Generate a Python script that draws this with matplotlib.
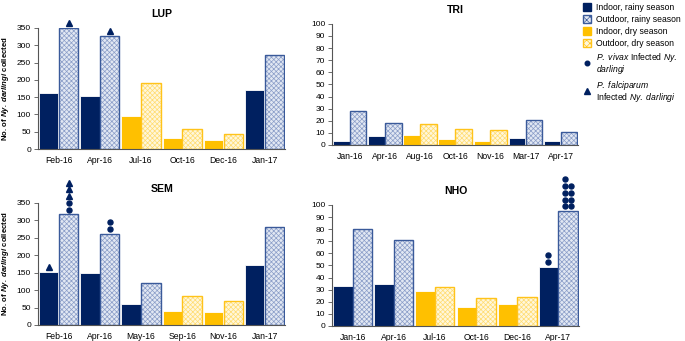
import matplotlib.pyplot as plt
from matplotlib import transforms
from matplotlib.patches import Patch
from matplotlib.lines import Line2D

# Dados
lup_months = ['Feb-16', 'Apr-16', 'Jul-16', 'Oct-16', 'Dec-16', 'Jan-17']
lup_indoor = [163, 153, 95, 33, 27, 170]
lup_outdoor = [350, 328, 192, 57, 42, 272]
lup_rainy = [True, True, False, False, False, True]

tri_months = ['Jan-16', 'Apr-16', 'Aug-16', 'Oct-16', 'Nov-16', 'Mar-17', 'Apr-17']
tri_indoor = [3, 7, 8, 5, 3, 6, 3]
tri_outdoor = [28, 18, 17, 13, 12, 21, 11]
tri_rainy = [True, True, False, False, False, True, True]

sem_months = ['Feb-16', 'Apr-16', 'May-16', 'Sep-16', 'Nov-16', 'Jan-17']
sem_indoor = [152, 149, 60, 40, 38, 172]
sem_outdoor = [317, 262, 120, 84, 69, 282]
sem_rainy = [True, True, True, False, False, True]

nho_months = ['Jan-16', 'Apr-16', 'Jul-16', 'Oct-16', 'Dec-16', 'Apr-17']
nho_indoor = [33, 35, 29, 16, 18, 49]
nho_outdoor = [80, 71, 32, 23, 24, 95]
nho_rainy = [True, True, False, False, False, True]

# infectados: (grupo, 'in'/'out', pilha de baixo para cima; o = P. vivax, ^ = P. falciparum)
lup_inf = [(0, 'out', ['^']), (1, 'out', ['^'])]
tri_inf = []
sem_inf = [(0, 'in', ['^']), (0, 'out', ['o', 'o', '^', '^', '^']), (1, 'out', ['o', 'o'])]
nho_inf = [(5, 'in', ['o', 'o']), (5, 'out', [['o', 'o']] * 4 + [['o', None]])]

navy = '#002060'
yellow = '#FFC000'

plt.rcParams['font.family'] = 'Liberation Sans'
plt.rcParams['mathtext.fontset'] = 'custom'
plt.rcParams['mathtext.rm'] = 'Liberation Sans'
plt.rcParams['mathtext.it'] = 'Liberation Sans:italic'
plt.rcParams['mathtext.bf'] = 'Liberation Sans:italic:bold'
plt.rcParams['hatch.linewidth'] = 0.5

fig = plt.figure(figsize=(6.85, 3.41), dpi=100)

w = 0.47


def painel(pos, titulo, meses, indoor, outdoor, rainy, ymax, step, infectados, ylabel):
    ax = fig.add_axes(pos)
    n = len(meses)
    for i in range(n):
        cor = navy if rainy[i] else yellow
        fundo = '#e2e8f3' if rainy[i] else '#fff7dc'
        hcor = '#8a9dc8' if rainy[i] else '#ffdc70'
        borda = '#3a5a9a' if rainy[i] else '#ffc31a'
        ax.bar(i - 0.24, indoor[i], w, color=cor, edgecolor='white', linewidth=0.6)
        ax.bar(i + 0.24, outdoor[i], w, color=fundo, edgecolor=hcor, hatch='xxxxxxx', linewidth=0)
        ax.bar(i + 0.24, outdoor[i], w, fill=False, edgecolor=borda, linewidth=1.0)
    for g, lado, pilha in infectados:
        xc = g - 0.24 if lado == 'in' else g + 0.24
        val = indoor[g] if lado == 'in' else outdoor[g]
        for k, item in enumerate(pilha):
            linha = item if isinstance(item, list) else [item]
            dxs = [-2.4, 2.4] if len(linha) == 2 else [0]
            for dx, m in zip(dxs, linha):
                if m is None:
                    continue
                tr = transforms.offset_copy(ax.transData, fig=fig, x=dx, y=3.3 + k * 4.9,
                                            units='points')
                ms = 3.6 if m == 'o' else 4.0
                ax.plot([xc], [val], marker=m, color=navy, markersize=ms, transform=tr,
                        clip_on=False, linestyle='none')
    ax.set_xlim(-0.5, n - 0.5)
    ax.set_ylim(0, ymax)
    ax.set_yticks(range(0, ymax + 1, step))
    ax.set_xticks(range(n))
    ax.set_xticklabels(meses)
    ax.spines['top'].set_visible(False)
    ax.spines['right'].set_visible(False)
    for s in ['left', 'bottom']:
        ax.spines[s].set_color('#555555')
        ax.spines[s].set_linewidth(0.8)
    ax.tick_params(axis='y', labelsize=6, length=3, width=0.6, color='#555555', pad=2)
    ax.tick_params(axis='x', labelsize=6.2, length=0, pad=5)
    ax.set_title(titulo, fontsize=7.6, fontweight='bold', pad=8)
    if ylabel:
        ax.set_ylabel(r'No. of $\mathbf{Ny.\ darlingi}$ collected', fontsize=5.6,
                      fontweight='bold', labelpad=4)
    return ax


painel([0.0555, 0.563, 0.361, 0.355], 'LUP', lup_months, lup_indoor, lup_outdoor, lup_rainy,
       350, 50, lup_inf, True)
painel([0.485, 0.575, 0.359, 0.355], 'TRI', tri_months, tri_indoor, tri_outdoor, tri_rainy,
       100, 10, tri_inf, False)
painel([0.0555, 0.047, 0.361, 0.358], 'SEM', sem_months, sem_indoor, sem_outdoor, sem_rainy,
       350, 50, sem_inf, True)
painel([0.485, 0.044, 0.360, 0.355], 'NHO', nho_months, nho_indoor, nho_outdoor, nho_rainy,
       100, 10, nho_inf, False)

# Legenda
handles = [
    Patch(facecolor=navy, edgecolor=navy),
    Patch(facecolor='#e2e8f3', edgecolor='#3a5a9a', hatch='xxxxx'),
    Patch(facecolor=yellow, edgecolor=yellow),
    Patch(facecolor='#fff7dc', edgecolor='#ffc31a', hatch='xxxxx'),
    Line2D([], [], marker='o', color=navy, linestyle='none', markersize=3.3),
    Line2D([], [], marker='^', color=navy, linestyle='none', markersize=3.8),
]
labels = [
    'Indoor, rainy season',
    'Outdoor, rainy season',
    'Indoor, dry season',
    'Outdoor, dry season',
    r'$\mathit{P.\ vivax}$ Infected $\mathit{Ny.}$' + '\n' + r'$\mathit{darlingi}$',
    r'$\mathit{P.\ falciparum}$' + '\n' + r'Infected $\mathit{Ny.\ darlingi}$',
]
leg = fig.legend(handles, labels, loc='upper left', bbox_to_anchor=(0.842, 1.01), frameon=False,
                 fontsize=6.2, handlelength=1.0, handleheight=1.0, handletextpad=0.5,
                 labelspacing=0.35, borderpad=0.2)
for t in leg.get_texts():
    t.set_linespacing(0.9)

fig.savefig('out.png', dpi=100)
